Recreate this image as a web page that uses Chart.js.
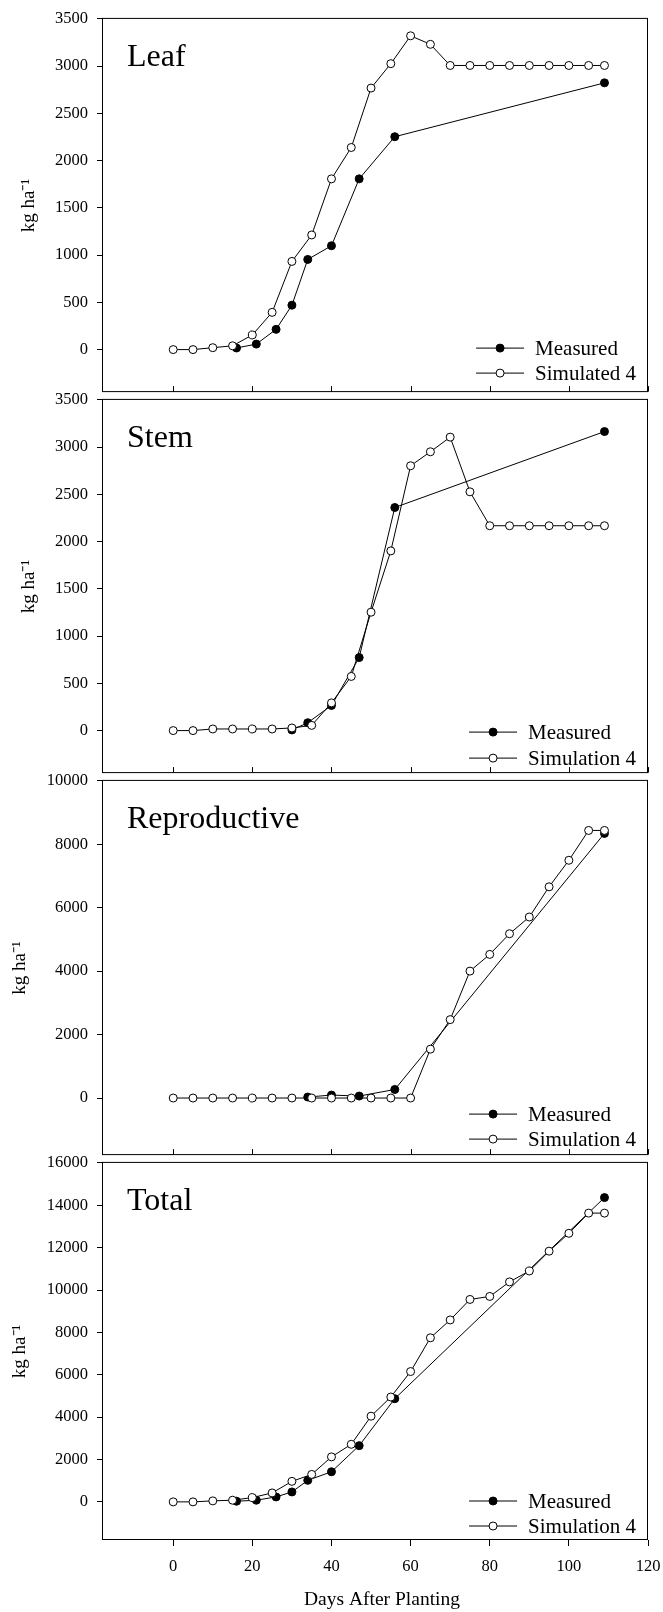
<!DOCTYPE html>
<html>
<head>
<meta charset="utf-8">
<script src="https://cdn.jsdelivr.net/npm/chart.js@4.4.1/dist/chart.umd.min.js"></script>
<style>
  body { margin: 0; background: #fff; }
  #wrap { position: relative; width: 663px; height: 1612px; }
  #wrap canvas { position: absolute; left: 0; }
</style>
</head>
<body>
<div id="wrap">
  <canvas id="leafChart" width="663" height="411" style="top:0px"></canvas>
  <canvas id="stemChart" width="663" height="411" style="top:381px"></canvas>
  <canvas id="reproChart" width="663" height="412" style="top:762px"></canvas>
  <canvas id="totalChart" width="663" height="468" style="top:1144px"></canvas>
</div>
<script>
// Days after planting
const simDays = [0, 5, 10, 15, 20, 25, 30, 35, 40, 45, 50, 55, 60, 65, 70, 75, 80, 85, 90, 95, 100, 105, 109];
const measDays = [16, 21, 26, 30, 34, 40, 47, 56, 109];
const stemMeasDays = [30, 34, 40, 47, 56, 109];
const reproMeasDays = [34, 40, 47, 56, 109];
const xTicks = [0, 20, 40, 60, 80, 100, 120];

// Leaf
const leafMeasured = [17, 58, 214, 470, 954, 1099, 1807, 2253, 2823];
const leafSimulated = [0, 0, 20, 40, 155, 394, 933, 1213, 1807, 2139, 2768, 3026, 3321, 3231, 3007, 3007, 3007, 3007, 3007, 3007, 3007, 3007, 3007];
const leafTicks = [0, 500, 1000, 1500, 2000, 2500, 3000, 3500];

// Stem
const stemMeasured = [7, 83, 266, 773, 2361, 3165];
const stemSimulated = [0, 0, 17, 17, 17, 17, 28, 55, 293, 573, 1253, 1902, 2803, 2951, 3106, 2527, 2168, 2168, 2168, 2168, 2168, 2168, 2168];
const stemTicks = [0, 500, 1000, 1500, 2000, 2500, 3000, 3500];

// Reproductive
const reproMeasured = [31, 93, 62, 269, 8345];
const reproSimulated = [0, 0, 0, 0, 0, 0, 0, 0, 0, 0, 0, 0, 0, 1541, 2472, 4002, 4529, 5181, 5708, 6660, 7497, 8438, 8438];
const reproTicks = [0, 2000, 4000, 6000, 8000, 10000];

// Total
const totalMeasured = [31, 78, 234, 468, 1015, 1421, 2654, 4871, 14363];
const totalSimulated = [0, 0, 47, 78, 203, 422, 968, 1296, 2123, 2717, 4044, 4949, 6151, 7744, 8587, 9555, 9696, 10383, 10898, 11834, 12677, 13630, 13630];
const totalTicks = [0, 2000, 4000, 6000, 8000, 10000, 12000, 14000, 16000];

const serif = "'Liberation Serif', 'Times New Roman', serif";
Chart.defaults.font.family = serif;
Chart.defaults.color = '#000';

function pts(days, vals) {
    return days.map((d, i) => ({ x: d, y: vals[i] }));
}

// frame, inner ticks, panel name, legend and the shared x title
const panelDecor = {
    id: 'panelDecor',
    afterDraw(chart, args, opts) {
        const ctx = chart.ctx;
        const a = chart.chartArea;
        ctx.save();
        ctx.strokeStyle = '#000';
        ctx.lineWidth = 1;
        ctx.strokeRect(a.left + 0.5, a.top - 0.5, a.right - a.left - 1, a.bottom - a.top);

        ctx.fillStyle = '#000';
        if (!opts.bottomAxis) {
            const xs = chart.scales.x;
            ctx.beginPath();
            xTicks.forEach(v => {
                const px = Math.round(xs.getPixelForValue(v)) + 0.5;
                ctx.moveTo(px, a.bottom - 0.5);
                ctx.lineTo(px, a.bottom - 6);
            });
            ctx.stroke();
        } else {
            ctx.font = '19.5px ' + serif;
            ctx.textAlign = 'center';
            ctx.textBaseline = 'middle';
            ctx.fillText('Days After Planting', (a.left + a.right) / 2 + 7, chart.height - 12);
        }

        ctx.font = '32px ' + serif;
        ctx.textBaseline = 'alphabetic';
        ctx.textAlign = 'left';
        ctx.fillText(opts.name, a.left + 25, a.top + 47);

        ctx.font = '21px ' + serif;
        ctx.textBaseline = 'middle';
        const sets = chart.data.datasets;
        const w = Math.max(...sets.map(s => ctx.measureText(s.label).width));
        const tx = a.right - 12 - w;
        sets.forEach((s, i) => {
            const y = a.bottom + opts.rows[i];
            ctx.beginPath();
            ctx.moveTo(tx - 59, y);
            ctx.lineTo(tx - 11, y);
            ctx.stroke();
            ctx.beginPath();
            ctx.arc(tx - 35, y, 4, 0, Math.PI * 2);
            ctx.fillStyle = s.pointBackgroundColor;
            ctx.fill();
            ctx.stroke();
            ctx.fillStyle = '#000';
            ctx.fillText(s.label, tx, y + 1);
        });
        ctx.restore();
    }
};

function makePanel(id, cfg) {
    const bottom = !!cfg.bottomAxis;
    return new Chart(document.getElementById(id), {
        type: 'line',
        data: {
            datasets: [
                {
                    label: 'Measured',
                    data: cfg.measured,
                    borderColor: '#000',
                    borderWidth: 1,
                    pointRadius: 4,
                    pointBackgroundColor: '#000',
                    pointBorderColor: '#000',
                    pointBorderWidth: 1,
                    tension: 0,
                    order: 1
                },
                {
                    label: cfg.simLabel,
                    data: cfg.simulated,
                    borderColor: '#000',
                    borderWidth: 1,
                    pointRadius: 4,
                    pointBackgroundColor: '#fff',
                    pointBorderColor: '#000',
                    pointBorderWidth: 1,
                    tension: 0,
                    order: 0
                }
            ]
        },
        options: {
            responsive: false,
            animation: false,
            layout: { padding: { left: 0, right: 15, top: 15, bottom: bottom ? 0 : 15 } },
            scales: {
                x: {
                    type: 'linear',
                    min: -18,
                    max: 120,
                    display: bottom,
                    afterBuildTicks: s => { s.ticks = xTicks.map(v => ({ value: v })); },
                    afterFit: s => {
                        s.height = bottom ? 72 : 0;
                        s.paddingLeft = 0;
                        s.paddingRight = 0;
                    },
                    grid: { drawOnChartArea: false, tickLength: 6, color: '#000' },
                    border: { display: false },
                    ticks: {
                        autoSkip: false,
                        maxRotation: 0,
                        padding: 11,
                        font: { size: 16.5 },
                        callback: v => String(v)
                    }
                },
                y: {
                    type: 'linear',
                    min: cfg.yMin,
                    max: cfg.yMax,
                    afterBuildTicks: s => { s.ticks = cfg.yTicks.map(v => ({ value: v })); },
                    afterFit: s => { s.width = 102; },
                    grid: { drawOnChartArea: false, tickLength: 5, color: '#000' },
                    border: { display: false },
                    ticks: {
                        padding: 9,
                        font: { size: 16.5 },
                        callback: v => String(v)
                    },
                    title: {
                        display: true,
                        text: 'kg ha⁻¹',
                        font: { size: 19 },
                        padding: { top: cfg.titlePad, bottom: 0 }
                    }
                }
            },
            plugins: {
                legend: { display: false },
                tooltip: { enabled: false },
                panelDecor: { name: cfg.name, rows: cfg.rows, bottomAxis: bottom }
            }
        },
        plugins: [panelDecor]
    });
}

makePanel('leafChart', {
    name: 'Leaf',
    simLabel: 'Simulated 4',
    measured: pts(measDays, leafMeasured),
    simulated: pts(simDays, leafSimulated),
    yMin: -450, yMax: 3500, yTicks: leafTicks,
    titlePad: 18, rows: [-44, -19]
});

makePanel('stemChart', {
    name: 'Stem',
    simLabel: 'Simulation 4',
    measured: pts(stemMeasDays, stemMeasured),
    simulated: pts(simDays, stemSimulated),
    yMin: -450, yMax: 3500, yTicks: stemTicks,
    titlePad: 18, rows: [-41, -15]
});

makePanel('reproChart', {
    name: 'Reproductive',
    simLabel: 'Simulation 4',
    measured: pts(reproMeasDays, reproMeasured),
    simulated: pts(simDays, reproSimulated),
    yMin: -1800, yMax: 10000, yTicks: reproTicks,
    titlePad: 9, rows: [-41, -16]
});

makePanel('totalChart', {
    name: 'Total',
    simLabel: 'Simulation 4',
    measured: pts(measDays, totalMeasured),
    simulated: pts(simDays, totalSimulated),
    yMin: -1800, yMax: 16000, yTicks: totalTicks,
    titlePad: 9, rows: [-39, -14],
    bottomAxis: true
});
</script>
</body>
</html>
